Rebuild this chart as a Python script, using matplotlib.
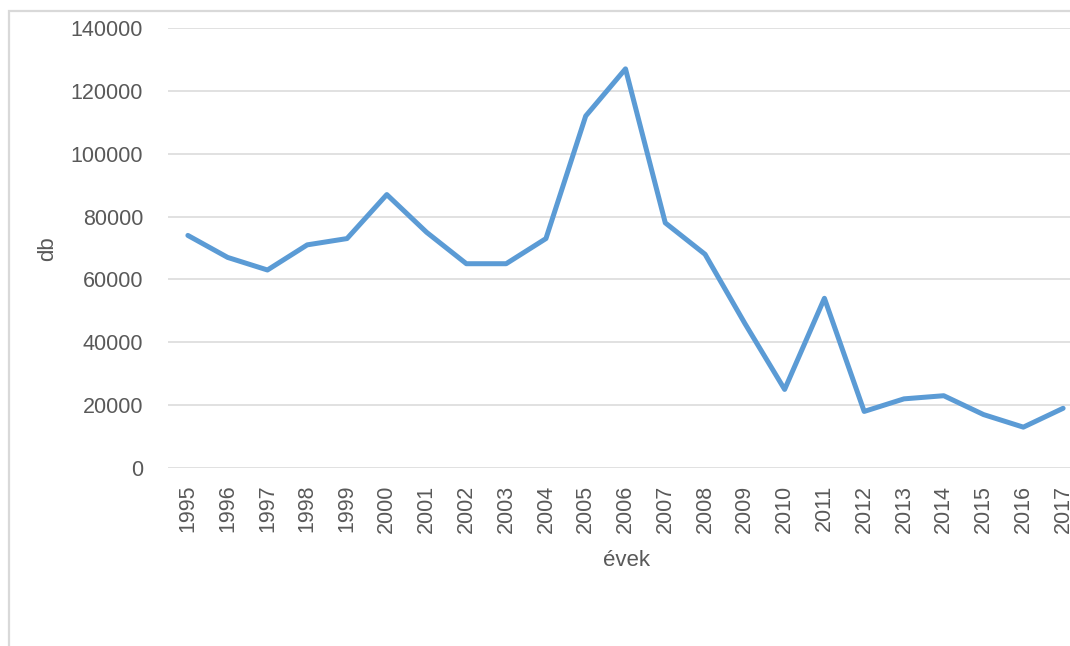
import matplotlib
matplotlib.use("Agg")
import matplotlib.pyplot as plt
from matplotlib.patches import Rectangle

years = [str(y) for y in range(1995, 2018)]
db = [74000, 67000, 63000, 71000, 73000, 87000, 75000, 65000, 65000, 73000,
      112000, 127000, 78000, 68000, 46000, 25000, 54000, 18000, 22000, 23000,
      17000, 13000, 19000]
yticks = [0, 20000, 40000, 60000, 80000, 100000, 120000, 140000]

plt.rcParams['font.family'] = ['Liberation Sans', 'DejaVu Sans']
txt = '#595959'

W, H = 1070, 646
fig = plt.figure(figsize=(W / 100, H / 100), dpi=100)

# chart area border (cut off on the right and bottom in the reference)
fig.add_artist(Rectangle((9 / W, -0.2), 1.5, (H - 11) / H + 0.2,
                         transform=fig.transFigure, fill=False,
                         edgecolor='#d9d9d9', lw=1.6))

# axes: categories sit in the middle of slots, plot runs past the right edge
left, right, top, bottom = 168, 1083, 28, 468
ax = fig.add_axes([left / W, 1 - bottom / H, (right - left) / W, (bottom - top) / H])

x = list(range(len(years)))
ax.plot(x, db, color='#5b9bd5', lw=3.6, solid_joinstyle='round', solid_capstyle='round',
        zorder=3)

ax.set_xlim(-0.5, len(years) - 0.5)
ax.set_ylim(0, 140000)
ax.set_yticks(yticks)
ax.set_yticklabels([str(v) for v in yticks])
ax.set_xticks(x)
ax.set_xticklabels(years, rotation=90)

ax.grid(axis='y', color='#d9d9d9', lw=1.1)
ax.set_axisbelow(True)
for s in ax.spines.values():
    s.set_visible(False)
ax.tick_params(axis='both', length=0, colors=txt, labelsize=15.5)
ax.tick_params(axis='y', pad=18)
ax.tick_params(axis='x', pad=12)

fig.text(48 / W, 1 - 249 / H, 'db', rotation=90, ha='center', va='center',
         fontsize=16, color=txt)
fig.text(626 / W, 1 - 560 / H, 'évek', ha='center', va='center',
         fontsize=16, color=txt)

fig.savefig('out.png', dpi=100)
